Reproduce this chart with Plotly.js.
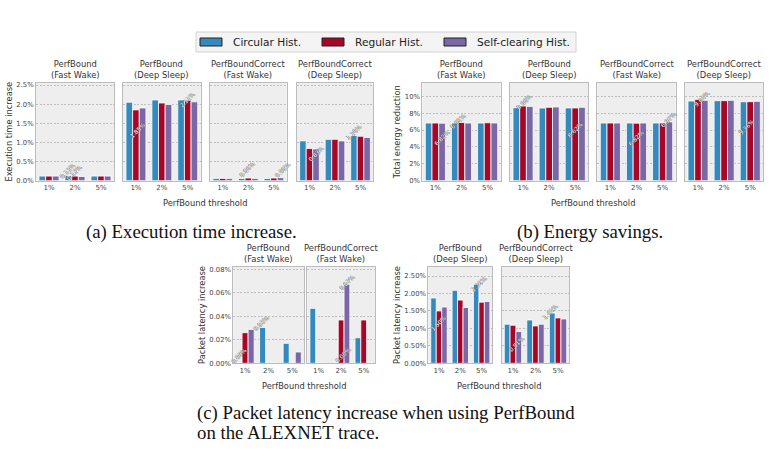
<!DOCTYPE html>
<html><head><meta charset="utf-8">
<script src="https://cdn.plot.ly/plotly-3.0.1.min.js"></script>
<style>html,body{margin:0;padding:0;background:#fff}#chart{width:770px;height:465px}</style>
</head><body><div id="chart"></div>
<script>
// ---------------- DATA ----------------
const categories = ['1%', '2%', '5%'];
const seriesNames = ['Circular Hist.', 'Regular Hist.', 'Self-clearing Hist.'];

// (a) Execution time increase (%) : [circular, regular, self-clearing]
const execPerfBoundFast   = [[0.12, 0.13, 0.12], [0.12, 0.12, 0.12], [0.12, 0.11, 0.12]];
const execPerfBoundDeep   = [[2.05, 2.11, 2.11], [1.85, 2.03, 2.10], [1.90, 1.99, 2.06]];
const execCorrectFast     = [[0.06, 0.06, 0.06], [0.06, 0.07, 0.07], [0.06, 0.06, 0.08]];
const execCorrectDeep     = [[1.04, 1.08, 1.18], [0.84, 1.08, 1.16], [0.83, 1.04, 1.13]];
// (b) Total energy reduction (%)
const energyPerfBoundFast = [[6.84, 6.84, 6.84], [6.84, 6.91, 6.87], [6.82, 6.84, 6.84]];
const energyPerfBoundDeep = [[8.65, 8.62, 8.63], [8.86, 8.70, 8.62], [8.81, 8.74, 8.70]];
const energyCorrectFast   = [[6.84, 6.84, 6.84], [6.84, 6.82, 6.84], [6.84, 6.84, 6.97]];
const energyCorrectDeep   = [[9.45, 9.49, 9.36], [9.64, 9.49, 9.37], [9.53, 9.53, 9.41]];
// (c) Packet latency increase (%)
const latPerfBoundFast    = [[0.000, 0.0306, 0.0170], [0.0261, 0.000, 0.000], [0.0289, 0.000, 0.0096]];
const latCorrectFast      = [[0.0468, 0.000, 0.0218], [0.000, 0.0369, 0.0369], [0.000, 0.0672, 0.000]];
const latPerfBoundDeep    = [[1.87, 2.09, 2.26], [1.50, 1.81, 1.75], [1.61, 1.60, 1.77]];
const latCorrectDeep      = [[1.12, 1.24, 1.44], [1.09, 1.07, 1.30], [0.91, 1.12, 1.27]];

const panelTitles = ['PerfBound<br>(Fast Wake)', 'PerfBound<br>(Deep Sleep)', 'PerfBoundCorrect<br>(Fast Wake)', 'PerfBoundCorrect<br>(Deep Sleep)'];
const yTitles = ['Execution time increase', 'Total energy reduction', 'Packet latency increase'];
const xTitle = 'PerfBound threshold';
const captions = ['(a) Execution time increase.', '(b) Energy savings.', '(c) Packet latency increase when using PerfBound', 'on the ALEXNET trace.'];

// highlighted (min / max) bars: [panel, category, series]
const markedBars = [[0,1,0],[0,1,1],[1,0,1],[1,2,0],[2,1,0],[2,2,2],[3,0,2],[3,2,0],
                    [4,0,2],[4,1,1],[5,0,1],[5,2,1],[6,1,1],[6,2,2],[7,0,1],[7,2,0],
                    [8,0,0],[8,1,0],[9,1,0],[9,1,2],[10,0,1],[10,2,0],[11,0,2],[11,2,0]];

// ---------------- STYLE / LAYOUT ----------------
const W = 770, H = 465;
const colors = ['#348ABD', '#A60628', '#7A68A6'];
const FONT = 'DejaVu Sans, sans-serif';
const bargap = 0.23;
const barStep = (1 - bargap) / 3;
const labelShift = [[-1,5],[-1,3],[2,-20],[6,0],[6,9],[2,8],[0,-5],[0,4],
                    [0,-15],[-3,1],[1,4],[0,-22],[0,-15],[-1,2],[4,0],[3,-25],
                    [0,7],[-1,4],[8,8],[1,2],[0,-12],[3,0],[-2,-12],[-2,1]];

const panels = [
  {d: execPerfBoundFast,   t: 0, x: [36, 114],    y: [82.7, 180.7], r: [0, 2.56],   dt: 0.5,  f: '.1f', yt: 0},
  {d: execPerfBoundDeep,   t: 1, x: [123, 200.7], y: [82.7, 180.7], r: [0, 2.56],   dt: 0.5,  f: '.1f'},
  {d: execCorrectFast,     t: 2, x: [210, 286.7], y: [82.7, 180.7], r: [0, 2.56],   dt: 0.5,  f: '.1f'},
  {d: execCorrectDeep,     t: 3, x: [296.7, 373.3], y: [82.7, 180.7], r: [0, 2.56], dt: 0.5,  f: '.1f'},
  {d: energyPerfBoundFast, t: 0, x: [422.3, 500.7], y: [82.7, 180.7], r: [0, 11.62], dt: 2,  f: '.0f', yt: 1},
  {d: energyPerfBoundDeep, t: 1, x: [510, 588.3], y: [82.7, 180.7], r: [0, 11.62],  dt: 2,    f: '.0f'},
  {d: energyCorrectFast,   t: 2, x: [597.3, 675.7], y: [82.7, 180.7], r: [0, 11.62], dt: 2,  f: '.0f'},
  {d: energyCorrectDeep,   t: 3, x: [685, 763.3], y: [82.7, 180.7], r: [0, 11.62],  dt: 2,    f: '.0f'},
  {d: latPerfBoundFast,    t: 0, x: [233.3, 304], y: [266.7, 363.3], r: [0, 0.0823], dt: 0.02, f: '.2f', yt: 2},
  {d: latCorrectFast,      t: 2, x: [307.3, 375], y: [266.7, 363.3], r: [0, 0.0823], dt: 0.02, f: '.2f'},
  {d: latPerfBoundDeep,    t: 1, x: [428.3, 492.3], y: [266.7, 363.3], r: [0, 2.767], dt: 0.5, f: '.2f', yt: 2},
  {d: latCorrectDeep,      t: 3, x: [501.7, 569.3], y: [266.7, 363.3], r: [0, 2.767], dt: 0.5, f: '.2f'}
];

const traces = [];
const layout = {
  width: W, height: H, margin: {l: 0, r: 0, t: 0, b: 0},
  paper_bgcolor: '#ffffff', plot_bgcolor: '#eeeeee',
  font: {family: FONT, color: '#333'},
  barmode: 'group', bargap: bargap, bargroupgap: 0,
  showlegend: false,
  annotations: [], shapes: []
};

panels.forEach((p, i) => {
  const n = i + 1;
  const xa = 'x' + (n === 1 ? '' : n), ya = 'y' + (n === 1 ? '' : n);
  p.d.forEach((vals, s) => {
    traces.push({type: 'bar', x: categories, y: vals, xaxis: xa, yaxis: ya,
      name: seriesNames[s], showlegend: false,
      marker: {color: colors[s], line: {color: '#ffffff', width: 0.8}},
      hoverinfo: 'skip'});
  });
  const xk = 'xaxis' + (n === 1 ? '' : n), yk = 'yaxis' + (n === 1 ? '' : n);
  layout[xk] = {domain: [p.x[0]/W, p.x[1]/W], anchor: ya, type: 'category', range: [-0.5, 2.5],
    showline: true, mirror: true, linecolor: '#bcbcbc', linewidth: 1, ticks: '', showgrid: false,
    tickfont: {family: FONT, size: 7, color: '#444'}, fixedrange: true, automargin: false};
  layout[yk] = {domain: [1 - p.y[1]/H, 1 - p.y[0]/H], anchor: xa, range: p.r, dtick: p.dt, tick0: 0,
    tickformat: p.f, ticksuffix: '%', showticklabels: p.yt !== undefined,
    showline: true, mirror: true, linecolor: '#bcbcbc', linewidth: 1, ticks: '',
    showgrid: true, gridcolor: '#b2b2b2', gridwidth: 0.8, griddash: '2px,1.5px', zeroline: false,
    tickfont: {family: FONT, size: 6.8, color: '#444'}, fixedrange: true, automargin: false};
  if (p.yt !== undefined) {
    layout[yk].title = {text: yTitles[p.yt], font: {family: FONT, size: 8.3, color: '#333'}, standoff: 2};
  }
  layout.annotations.push({xref: xa + ' domain', yref: ya + ' domain', x: 0.5, y: 1, xanchor: 'center', yanchor: 'bottom',
    yshift: 1, text: panelTitles[p.t], showarrow: false, font: {family: FONT, size: 8.4, color: '#333'}});
});

// min/max value labels on bars
markedBars.forEach((m, k) => {
  const [pi, c, s] = m;
  const n = pi + 1;
  const v = panels[pi].d[s][c];
  layout.annotations.push({xref: 'x' + (n === 1 ? '' : n), yref: 'y' + (n === 1 ? '' : n),
    x: c + (s - 1) * barStep, y: v, xanchor: 'center', yanchor: 'middle',
    xshift: labelShift[k][0], yshift: labelShift[k][1], textangle: -45,
    text: v.toFixed(2) + '%', showarrow: false,
    font: {family: FONT, size: 5.8, color: '#ffffff', shadow: '0.4px 0.4px 0.2px #444, -0.4px -0.4px 0.2px #444'}});
});

// shared legend (frame, colour patches, labels)
const legBox = {x0: 196, x1: 576, y0: 32, y1: 52};
const legStep = 122, legPatchW = 22, legPatchH = 8, legTextGap = 9;
layout.shapes.push({type: 'rect', xref: 'paper', yref: 'paper', x0: legBox.x0/W, x1: legBox.x1/W,
  y0: 1 - legBox.y1/H, y1: 1 - legBox.y0/H, fillcolor: '#f4f4f4', line: {color: '#d2d2d2', width: 1}, layer: 'above'});
seriesNames.forEach((nm, s) => {
  const px = legBox.x0 + 4 + s * legStep, cy = (legBox.y0 + legBox.y1) / 2;
  layout.shapes.push({type: 'rect', xref: 'paper', yref: 'paper', x0: px/W, x1: (px + legPatchW)/W,
    y0: 1 - (cy + legPatchH/2)/H, y1: 1 - (cy - legPatchH/2)/H, fillcolor: colors[s],
    line: {color: '#222', width: 1}, layer: 'above'});
  layout.annotations.push({xref: 'paper', yref: 'paper', x: (px + legPatchW + legTextGap)/W, y: 1 - cy/H,
    xanchor: 'left', yanchor: 'middle', text: nm, showarrow: false,
    font: {family: FONT, size: 10.6, color: '#222'}});
});

// group x titles
function groupCenter(a, b) { return (panels[a].x[0] + panels[b].x[1]) / 2 / W; }
[[0, 3, 203], [4, 7, 203], [8, 9, 386], [10, 11, 386]].forEach(g => {
  layout.annotations.push({xref: 'paper', yref: 'paper', x: groupCenter(g[0], g[1]), y: 1 - g[2]/H,
    xanchor: 'center', yanchor: 'middle', text: xTitle, showarrow: false,
    font: {family: FONT, size: 8.3, color: '#333'}});
});

// captions
const SERIF = 'Liberation Serif, DejaVu Serif, serif';
const capFont = {family: SERIF, size: 18.8, color: '#111'};
layout.annotations.push({xref: 'paper', yref: 'paper', x: 191.5/W, y: 1 - 232/H, xanchor: 'center', yanchor: 'middle',
  text: captions[0], showarrow: false, font: capFont});
layout.annotations.push({xref: 'paper', yref: 'paper', x: 589.5/W, y: 1 - 232/H, xanchor: 'center', yanchor: 'middle',
  text: captions[1], showarrow: false, font: capFont});
layout.annotations.push({xref: 'paper', yref: 'paper', x: 195/W, y: 1 - 413/H, xanchor: 'left', yanchor: 'middle',
  text: captions[2], showarrow: false, font: capFont});
layout.annotations.push({xref: 'paper', yref: 'paper', x: 195/W, y: 1 - 432/H, xanchor: 'left', yanchor: 'middle',
  text: captions[3], showarrow: false, font: capFont});

Plotly.newPlot('chart', traces, layout, {staticPlot: true, displayModeBar: false});
</script></body></html>
